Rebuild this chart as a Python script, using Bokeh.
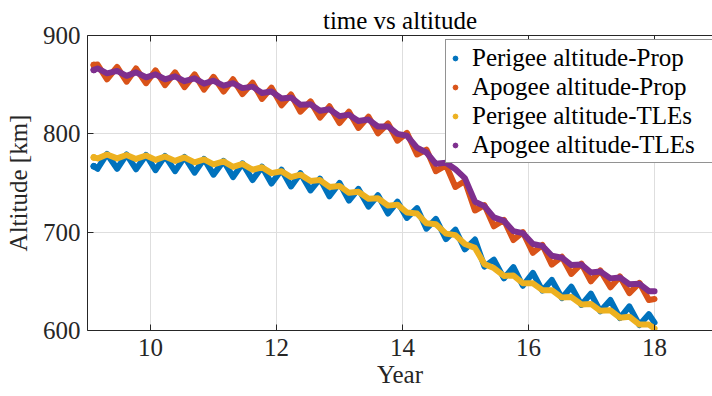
from bokeh.plotting import figure
from bokeh.models import FixedTicker, LinearAxis, Legend, LegendItem, Range1d, ColumnDataSource
from bokeh.embed import file_html
from bokeh.resources import INLINE

years = [9.10, 9.16, 9.31, 9.47, 9.62, 9.77, 9.93, 10.08, 10.23, 10.39, 10.54, 10.70, 10.85, 11.00,
         11.16, 11.31, 11.46, 11.62, 11.77, 11.92, 12.08, 12.23, 12.38, 12.54, 12.69, 12.84, 13.00,
         13.15, 13.30, 13.46, 13.61, 13.77, 13.92, 14.07, 14.23, 14.38, 14.53, 14.69, 14.84, 14.99,
         15.15, 15.30, 15.45, 15.61, 15.76, 15.91, 16.07, 16.22, 16.37, 16.53, 16.68, 16.84, 16.99,
         17.14, 17.30, 17.45, 17.60, 17.76, 17.91, 18.00]

perigee_prop = [767, 764.5, 779.5, 764.5, 779, 764, 778.5, 763, 777.5, 762, 776.5, 760.5, 774.5, 758.5,
                772.5, 756, 770, 753, 766.5, 749.5, 763.5, 746.5, 760, 742.5, 754.5, 736.5, 750,
                732, 744, 726, 737.5, 719, 731, 714.5, 724.5, 703.5, 713.5, 693, 702.5, 682.5,
                692.5, 665, 672, 653, 664.5, 645.5, 658.5, 640.5, 651.5, 633, 644.5, 626, 637.5,
                619.5, 631, 612.5, 624.5, 605.5, 616.5, 608]

apogee_prop = [870, 870.5, 855.5, 868, 853, 866.5, 851.5, 864.5, 849.5, 862.5, 847.5, 860.5, 845, 858,
               843, 855.5, 840.5, 852, 835.5, 847, 829, 840, 822.5, 833, 816.5, 828, 811,
               822.5, 806, 817.5, 800.5, 810.5, 793, 801, 779, 784, 762, 768, 746, 752,
               722, 727.5, 706, 712.5, 692, 700, 679, 687, 667, 675, 657.5, 668, 650,
               661, 644, 655, 638, 648.5, 631, 632]

perigee_tle = [776, 775, 779, 775, 778.5, 774.5, 778, 773.5, 777, 772.5, 776, 771, 774, 769,
               772, 766.5, 769.5, 763.5, 766, 760, 762, 756, 758.5, 752, 753, 746, 747,
               740, 741, 734, 734.5, 727, 728, 720, 719, 709, 708, 698.5, 697, 688,
               684, 667.5, 663.5, 655.5, 656, 648, 648, 641, 641, 633.5, 634, 626.5, 627,
               620, 620.5, 613, 614, 606, 606, 602]

apogee_tle = [865, 866.5, 861.5, 864, 859, 862.5, 857.5, 860.5, 855.5, 858.5, 853.5, 856.5, 851, 854,
              849, 851.5, 846.5, 848, 841.5, 843, 836, 837, 829.5, 830, 823.5, 825, 818,
              819.5, 813, 814.5, 807.5, 807.5, 800, 798, 786, 781, 769.5, 770.5, 764, 755,
              731, 726.5, 715, 711.5, 701, 699, 688, 686, 676, 674, 666.5, 667, 659,
              660, 653, 654, 647, 647.5, 640, 640]

labels = ["Perigee altitude-Prop", "Apogee altitude-Prop", "Perigee altitude-TLEs", "Apogee altitude-TLEs"]
colors = ["#0072BD", "#D95319", "#EDB120", "#7E2F8E"]
x_ticks = [10, 12, 14, 16, 18]
y_ticks = [600, 700, 800, 900]

FONT = "Liberation Serif"
FS = "25px"
AX = "#262626"

p = figure(width=712, height=396, output_backend="svg", toolbar_location=None,
           x_range=Range1d(9, 18.92), y_range=Range1d(600, 900),
           min_border_left=87, min_border_right=0, min_border_top=35, min_border_bottom=66,
           title="time vs altitude")
p.outline_line_color = None
p.background_fill_color = "white"
p.border_fill_color = "white"

p.title.text_font = FONT
p.title.text_font_size = FS
p.title.text_font_style = "normal"
p.title.align = "center"
p.title.text_color = "black"
p.title.standoff = 4

p.xaxis.ticker = FixedTicker(ticks=x_ticks)
p.yaxis.ticker = FixedTicker(ticks=y_ticks)
for ax in (p.xaxis[0], p.yaxis[0]):
    ax.major_tick_in = 6
    ax.major_tick_out = 0
    ax.minor_tick_line_color = None
    ax.axis_line_color = AX
    ax.major_tick_line_color = AX
    ax.major_label_text_font = FONT
    ax.major_label_text_font_size = FS
    ax.major_label_text_color = AX
    ax.axis_label_text_font = FONT
    ax.axis_label_text_font_size = FS
    ax.axis_label_text_font_style = "normal"
    ax.axis_label_text_color = AX
p.xaxis.axis_label = "Year"
p.yaxis.axis_label = "Altitude [km]"
p.xaxis.major_label_standoff = 8
p.xaxis.axis_label_standoff = 2
p.yaxis.major_label_standoff = 7
p.yaxis.axis_label_standoff = 8

top = LinearAxis(ticker=FixedTicker(ticks=x_ticks), major_label_text_font_size="1px",
                 major_label_overrides={t: "" for t in x_ticks},
                 major_tick_in=6, major_tick_out=0, minor_tick_line_color=None,
                 axis_line_color=AX, major_tick_line_color=AX, major_label_standoff=0)
p.add_layout(top, "above")

p.grid.grid_line_color = "#dedede"
p.grid.grid_line_width = 1
p.xgrid.ticker = FixedTicker(ticks=x_ticks)
p.ygrid.ticker = FixedTicker(ticks=y_ticks)

src = ColumnDataSource(dict(year=years, pp=perigee_prop, ap=apogee_prop, pt=perigee_tle, at=apogee_tle))
cols = ["pp", "ap", "pt", "at"]

# legend dot renderers (first sample of each series, hidden under its line)
dot_src = ColumnDataSource(dict(year=years[:1], pp=perigee_prop[:1], ap=apogee_prop[:1],
                                pt=perigee_tle[:1], at=apogee_tle[:1]))
items = []
for col, lab, c in zip(cols, labels, colors):
    r = p.scatter("year", col, source=dot_src, size=6, color=c)
    items.append(LegendItem(label=lab, renderers=[r]))

for col, c in zip(cols, colors):
    p.line("year", col, source=src, line_color=c, line_width=6, line_join="round", line_cap="round")

legend = Legend(items=items, location=(358, 167))
legend.border_line_color = AX
legend.border_line_width = 1
legend.background_fill_color = "white"
legend.background_fill_alpha = 1
legend.label_text_font = FONT
legend.label_text_font_size = FS
legend.label_text_color = "black"
legend.glyph_width = 12
legend.glyph_height = 12
legend.label_height = 29
legend.label_width = 240
legend.spacing = 0
legend.padding = 3
legend.margin = 0
legend.label_standoff = 11
p.add_layout(legend)

open("out.html", "w").write(file_html(p, INLINE))
